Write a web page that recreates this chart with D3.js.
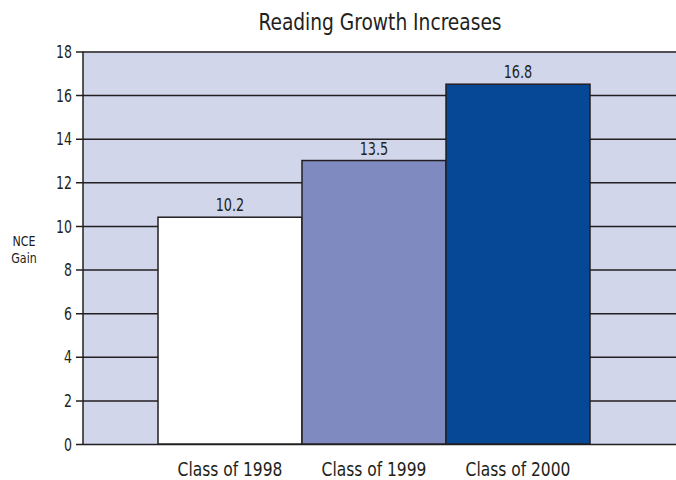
<!DOCTYPE html>
<html><head><meta charset="utf-8">
<script src="https://cdn.jsdelivr.net/npm/d3@7"></script>
<style>
body{margin:0;background:#fff}
text{font-family:"DejaVu Sans Condensed","Liberation Sans Narrow",sans-serif;font-stretch:condensed;fill:#231f20}
</style></head>
<body><svg id="c" width="676" height="480"></svg>
<script>
const categories = ["Class of 1998","Class of 1999","Class of 2000"];
const values = [10.4, 13.0, 16.5];
const valueLabels = ["10.2","13.5","16.8"];
const colors = ["#ffffff","#7f8bc0","#074896"];
const yTicks = [0,2,4,6,8,10,12,14,16,18];
const title = "Reading Growth Increases";
const yLabel = ["NCE","Gain"];

const svg = d3.select("#c");
const plotL = 83, plotR = 676, plotT = 51.5, plotB = 444;
const y = d3.scaleLinear().domain([0,18]).range([plotB, plotT]);
const x = d3.scaleBand().domain(categories).range([158, 590]).padding(0);

function condense(sel, f){
  sel.each(function(){
    const w = this.getComputedTextLength();
    this.setAttribute("textLength", w*f);
    this.setAttribute("lengthAdjust","spacingAndGlyphs");
  });
}

svg.append("rect").attr("x",plotL).attr("y",plotT).attr("width",plotR-plotL).attr("height",plotB-plotT).attr("fill","#d1d6ea");

const yAxis = d3.axisLeft(y).tickValues(yTicks).tickSize(-(plotR-plotL)).tickPadding(11).tickFormat(d3.format("d"));
const ga = svg.append("g").attr("transform",`translate(${plotL},0)`).call(yAxis);
ga.attr("font-family",null).attr("font-size",17);
ga.select(".domain").remove();
ga.selectAll(".tick line").attr("stroke","#231f20").attr("stroke-width",1.5).attr("x1",-7);
ga.selectAll(".tick text").attr("font-size",17).attr("dy","0.36em");
condense(ga.selectAll(".tick text"), 0.82);

svg.append("line").attr("x1",plotL).attr("x2",plotL).attr("y1",plotT).attr("y2",plotB).attr("stroke","#231f20").attr("stroke-width",1.5);

svg.selectAll(".bar").data(values).join("rect")
  .attr("x",(d,i)=>x(categories[i]))
  .attr("y",d=>y(d))
  .attr("width",x.bandwidth())
  .attr("height",d=>y(0)-y(d))
  .attr("fill",(d,i)=>colors[i])
  .attr("stroke","#231f20").attr("stroke-width",1.5);

const vl = svg.selectAll(".vl").data(values).join("text")
  .attr("x",(d,i)=>x(categories[i])+x.bandwidth()/2)
  .attr("y",d=>y(d)-6)
  .attr("text-anchor","middle").attr("font-size",17)
  .text((d,i)=>valueLabels[i]);
condense(vl, 0.84);

const cl = svg.selectAll(".cl").data(categories).join("text")
  .attr("x",d=>x(d)+x.bandwidth()/2)
  .attr("y",476)
  .attr("text-anchor","middle").attr("font-size",20)
  .text(d=>d);
condense(cl, 0.86);

const tt = svg.append("text").attr("x",380).attr("y",30).attr("text-anchor","middle").attr("font-size",23).text(title);
condense(tt, 0.9);

const yl = svg.selectAll(".yl").data(yLabel).join("text")
  .attr("x",24).attr("y",(d,i)=>246+i*17)
  .attr("text-anchor","middle").attr("font-size",14)
  .text(d=>d);
condense(yl, 0.88);
</script></body></html>
